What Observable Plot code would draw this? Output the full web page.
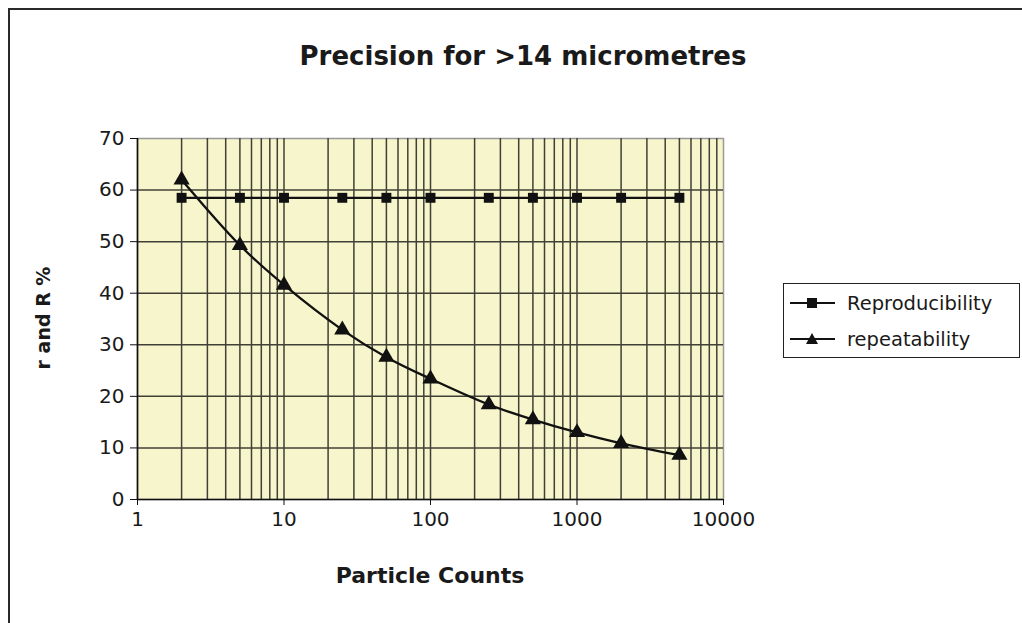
<!DOCTYPE html>
<html>
<head>
<meta charset="utf-8">
<script src="https://cdn.jsdelivr.net/npm/d3@7"></script>
<script src="https://cdn.jsdelivr.net/npm/@observablehq/plot@0.6"></script>
<style>
  html, body { margin: 0; padding: 0; background: #fff; }
  #wrap { position: relative; width: 1022px; height: 623px; overflow: hidden; font-family: "DejaVu Sans", sans-serif; color: #1a1a1a; }
  #frame { position: absolute; left: 8px; top: 8px; width: 1100px; height: 700px; border: 2px solid #2a2a2a; box-sizing: border-box; }
  #chart { position: absolute; left: 0; top: 0; }
  .title { position: absolute; left: 523px; top: 41px; transform: translateX(-50%); font-weight: bold; font-size: 26px; white-space: nowrap; }
  .xlabel { position: absolute; left: 430px; top: 563px; transform: translateX(-50%); font-weight: bold; font-size: 22px; white-space: nowrap; }
  .ylabel { position: absolute; left: 43px; top: 318px; transform: translate(-50%, -50%) rotate(-90deg); font-weight: bold; font-size: 19px; white-space: nowrap; }
  #legend { position: absolute; left: 783px; top: 283px; width: 237px; height: 75px; border: 1.5px solid #222; box-sizing: border-box; background: #fff; }
  .li { position: absolute; left: 6px; height: 30px; display: flex; align-items: center; font-size: 19.5px; white-space: nowrap; }
  .li svg { margin-right: 12px; }
</style>
</head>
<body>
<div id="wrap">
  <div id="frame"></div>
  <div id="chart"></div>
  <div class="title">Precision for &gt;14 micrometres</div>
  <div class="xlabel">Particle Counts</div>
  <div class="ylabel">r and R %</div>
  <div id="legend"></div>
</div>
<script>
// ---- data ----
const counts = [2, 5, 10, 25, 50, 100, 250, 500, 1000, 2000, 5000];
const reproducibility = [58.5, 58.5, 58.5, 58.5, 58.5, 58.5, 58.5, 58.5, 58.5, 58.5, 58.5];
const repeatability = [62.0, 49.3, 41.6, 32.9, 27.6, 23.4, 18.4, 15.5, 13.0, 10.9, 8.6];
const seriesNames = ["Reproducibility", "repeatability"];
const xTicks = [1, 10, 100, 1000, 10000];
const yTicks = [0, 10, 20, 30, 40, 50, 60, 70];

const reproData = counts.map((c, i) => ({x: c, y: reproducibility[i]}));
const repeatData = counts.map((c, i) => ({x: c, y: repeatability[i]}));

// minor log grid lines (2..9 x each decade), excluding the frame edges
const xGrid = d3.scaleLog().domain([1, 10000]).ticks().filter(v => v > 1 && v < 10000);
const yGrid = yTicks.filter(v => v > 0 && v < 70);

const gridColor = "#404036";

const plot = Plot.plot({
  width: 1022,
  height: 623,
  marginLeft: 137,
  marginRight: 299,
  marginTop: 138,
  marginBottom: 124,
  style: {fontFamily: "DejaVu Sans, sans-serif", fontSize: "20px", color: "#1a1a1a", background: "transparent"},
  x: {type: "log", domain: [1, 10000]},
  y: {domain: [0, 70]},
  marks: [
    Plot.frame({fill: "#f6f5cb", stroke: "#9a9a9a", strokeWidth: 1.5}),
    Plot.ruleX(xGrid, {stroke: gridColor, strokeWidth: 1.5}),
    Plot.ruleY(yGrid, {stroke: gridColor, strokeWidth: 1.5}),
    Plot.ruleX([1], {stroke: "#111", strokeWidth: 1.6}),
    Plot.ruleY([0], {stroke: "#111", strokeWidth: 1.6}),
    Plot.axisX({ticks: xTicks, tickFormat: d => String(d), tickSize: 6, tickPadding: 6, label: null, stroke: "#111", fontSize: 20}),
    Plot.axisY({ticks: yTicks, tickSize: 7, tickPadding: 6, label: null, stroke: "#111", fontSize: 20}),
    Plot.line(reproData, {x: "x", y: "y", stroke: "#111", strokeWidth: 2.3}),
    Plot.dot(reproData, {x: "x", y: "y", symbol: "square", r: 5.6, fill: "#111", stroke: "none"}),
    Plot.line(repeatData, {x: "x", y: "y", stroke: "#111", strokeWidth: 2.3, curve: "catmull-rom"}),
    Plot.dot(repeatData, {x: "x", y: "y", symbol: "triangle", r: 6, fill: "#111", stroke: "none"})
  ]
});
document.getElementById("chart").appendChild(plot);

// legend
const legend = document.getElementById("legend");
const symbols = ["square", "triangle"];
seriesNames.forEach((name, i) => {
  const row = document.createElement("div");
  row.className = "li";
  row.style.top = (4 + i * 36) + "px";
  const sym = symbols[i] === "square"
    ? '<rect x="17" y="6" width="10" height="10" fill="#111"/>'
    : '<path d="M22,5 L28,16 L16,16 Z" fill="#111"/>';
  row.innerHTML = '<svg width="45" height="22"><line x1="0" y1="11" x2="45" y2="11" stroke="#111" stroke-width="2"/>' + sym + '</svg><span>' + name + '</span>';
  legend.appendChild(row);
});
</script>
</body>
</html>
